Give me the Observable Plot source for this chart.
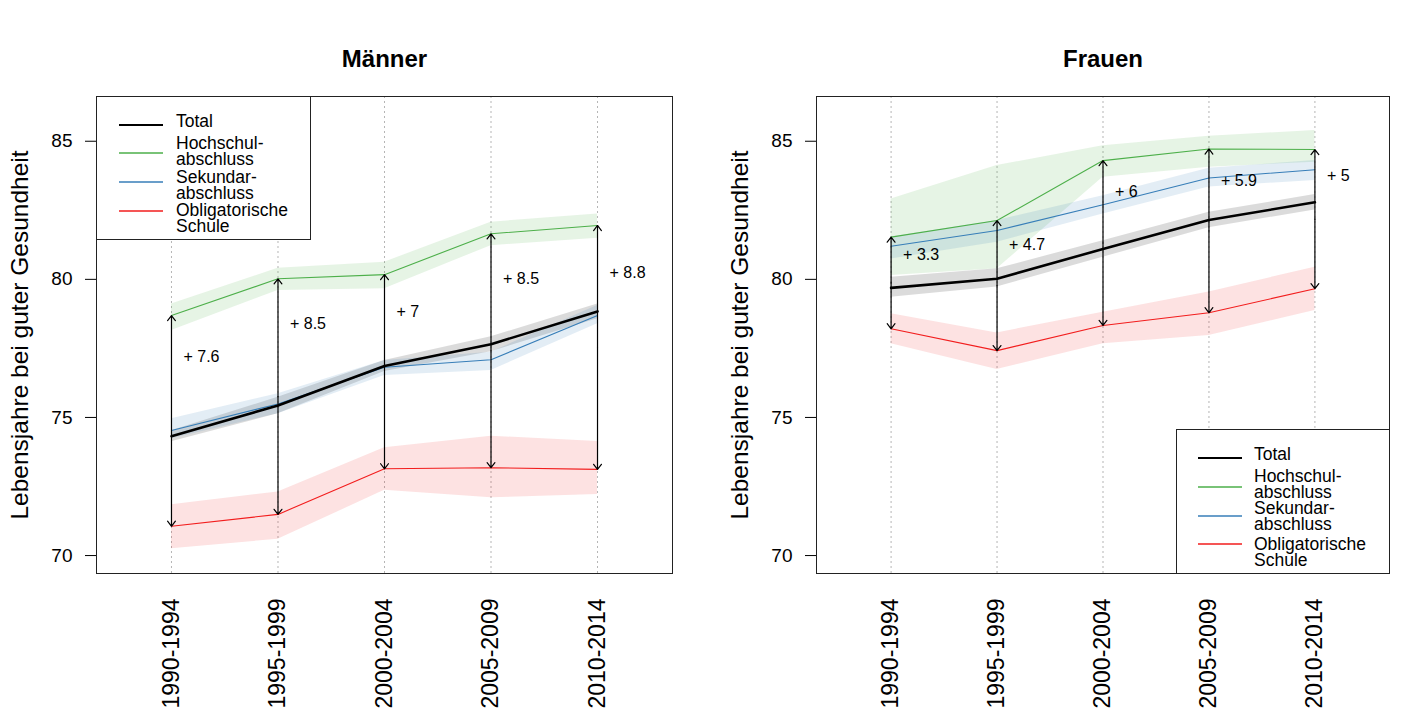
<!DOCTYPE html>
<html>
<head>
<meta charset="utf-8">
<script src="https://cdn.jsdelivr.net/npm/d3@7"></script>
<script src="https://cdn.jsdelivr.net/npm/@observablehq/plot@0.6"></script>
<style>
  html, body { margin: 0; padding: 0; background: #fff; }
  #wrap { position: relative; width: 1420px; height: 713px; font-family: "Liberation Sans", Arial, sans-serif; }
  .panel { position: absolute; top: 0; }
  .legend { position: absolute; background: #fff; border: 1px solid #222; box-sizing: border-box; }
  .legend svg { position: absolute; left: 0; top: 0; }
  .legend .tx { position: absolute; font-size: 17.5px; line-height: 16px; color: #000; white-space: nowrap; transform: translateY(-50%); }
</style>
</head>
<body>
<div id="wrap"></div>
<script>
// ---------- data ----------
const periods = ["1990-1994", "1995-1999", "2000-2004", "2005-2009", "2010-2014"];
const panelTitles = ["Männer", "Frauen"];
const yLabel = "Lebensjahre bei guter Gesundheit";
const yTicks = [70, 75, 80, 85];

const seriesNames = ["Total", "Hochschul-\nabschluss", "Sekundar-\nabschluss", "Obligatorische\nSchule"];
const seriesColors = ["#000000", "#4daf4a", "#377eb8", "#f21d1d"];

// Männer
const menTotal   = [74.32, 75.43, 76.86, 77.65, 78.84];
const menTotalLo = [74.12, 75.13, 76.66, 77.38, 78.57];
const menTotalHi = [74.52, 75.73, 77.06, 77.92, 79.11];
const menHoch    = [78.69, 80.02, 80.17, 81.65, 81.95];
const menHochLo  = [78.15, 79.60, 79.66, 81.22, 81.49];
const menHochHi  = [79.11, 80.40, 80.62, 82.07, 82.37];
const menSek     = [74.53, 75.49, 76.82, 77.09, 78.69];
const menSekLo   = [74.23, 75.13, 76.52, 76.70, 78.39];
const menSekHi   = [74.95, 75.86, 77.06, 77.36, 79.05];
const menObl     = [71.06, 71.49, 73.14, 73.18, 73.12];
const menOblLo   = [70.25, 70.59, 72.36, 72.09, 72.21];
const menOblHi   = [71.84, 72.30, 73.90, 74.32, 74.13];
const menGapLabels = ["+ 7.6", "+ 8.5", "+ 7", "+ 8.5", "+ 8.8"];
const menGapLabelY = [77.18, 78.37, 78.84, 80.02, 80.24];

// Frauen
const womenTotal   = [79.69, 80.02, 81.10, 82.15, 82.79];
const womenTotalLo = [79.35, 79.72, 80.80, 81.87, 82.51];
const womenTotalHi = [80.08, 80.38, 81.40, 82.43, 83.07];
const womenHoch    = [81.53, 82.13, 84.30, 84.72, 84.70];
const womenHochLo  = [80.14, 80.38, 83.70, 84.06, 84.24];
const womenHochHi  = [82.91, 84.12, 84.84, 85.18, 85.39];
const womenSek     = [81.20, 81.77, 82.70, 83.67, 83.97];
const womenSekLo   = [80.74, 81.34, 82.37, 83.34, 83.58];
const womenSekHi   = [81.53, 82.13, 83.03, 84.02, 84.30];
const womenObl     = [78.21, 77.42, 78.33, 78.79, 79.66];
const womenOblLo   = [77.67, 76.74, 77.67, 77.97, 78.87];
const womenOblHi   = [78.75, 78.06, 78.81, 79.54, 80.44];
const womenGapLabels = ["+ 3.3", "+ 4.7", "+ 6", "+ 5.9", "+ 5"];
const womenGapLabelY = [80.89, 81.25, 83.15, 83.55, 83.73];

// ---------- build ----------
const idx = periods.map((_, i) => i + 1);
function seriesRows(vals, lo, hi) {
  return vals.map((v, i) => ({i: i + 1, v, lo: lo[i], hi: hi[i]}));
}
const panels = [
  {
    title: panelTitles[0],
    series: [
      seriesRows(menTotal, menTotalLo, menTotalHi),
      seriesRows(menHoch, menHochLo, menHochHi),
      seriesRows(menSek, menSekLo, menSekHi),
      seriesRows(menObl, menOblLo, menOblHi)
    ],
    top: menHoch, bottom: menObl, labels: menGapLabels, labelY: menGapLabelY,
    left: 0, marginLeft: 96, marginRight: 38
  },
  {
    title: panelTitles[1],
    series: [
      seriesRows(womenTotal, womenTotalLo, womenTotalHi),
      seriesRows(womenHoch, womenHochLo, womenHochHi),
      seriesRows(womenSek, womenSekLo, womenSekHi),
      seriesRows(womenObl, womenOblLo, womenOblHi)
    ],
    top: womenHoch, bottom: womenObl, labels: womenGapLabels, labelY: womenGapLabelY,
    left: 710, marginLeft: 106, marginRight: 31
  }
];

const bandOpacity = [0.14, 0.14, 0.14, 0.13];
const lineWidths = [2.6, 1.1, 1.1, 1.1];
const wrap = document.getElementById("wrap");

panels.forEach(p => {
  const gaps = idx.map((i, k) => ({i, y1: p.top[k], y2: p.bottom[k], mid: (p.top[k] + p.bottom[k]) / 2, label: p.labels[k], ly: p.labelY[k]}));
  const marks = [
    Plot.ruleX(idx, {stroke: "#b5b5b5", strokeDasharray: "2,3", strokeWidth: 1}),
    ...p.series.map((rows, s) => Plot.areaY(rows, {x: "i", y1: "lo", y2: "hi", fill: seriesColors[s], fillOpacity: bandOpacity[s], curve: "linear"})),
    ...[1, 2, 3, 0].map(s => Plot.line(p.series[s], {x: "i", y: "v", stroke: seriesColors[s], strokeWidth: lineWidths[s]})),
    Plot.arrow(gaps, {x1: "i", x2: "i", y1: "mid", y2: "y1", stroke: "#000", strokeWidth: 1.2, headLength: 8, headAngle: 75}),
    Plot.arrow(gaps, {x1: "i", x2: "i", y1: "mid", y2: "y2", stroke: "#000", strokeWidth: 1.2, headLength: 8, headAngle: 75}),
    Plot.text(gaps, {x: "i", y: "ly", text: "label", textAnchor: "start", dx: 12, fontSize: 16, fill: "#000"}),
    Plot.axisY({ticks: yTicks, tickSize: 11, tickPadding: 13, fontSize: 19, label: null}),
    Plot.text([yLabel], {frameAnchor: "left", textAnchor: "middle", rotate: -90, dx: -76, fontSize: 24.5, fill: "#000"}),
    Plot.axisX({ticks: idx, tickFormat: i => periods[i - 1], tickRotate: -90, tickSize: 0, tickPadding: 25, fontSize: 23, label: null}),
    Plot.frame({stroke: "#222", strokeWidth: 1}),
    Plot.text([p.title], {frameAnchor: "top", dy: -47, fontSize: 24, fontWeight: "bold", fill: "#000"})
  ];
  const chart = Plot.plot({
    width: 710,
    height: 713,
    marginTop: 96,
    marginBottom: 140,
    marginLeft: p.marginLeft,
    marginRight: p.marginRight,
    x: {type: "linear", domain: [0.296, 5.704]},
    y: {domain: [69.35, 86.62]},
    style: {fontFamily: "'Liberation Sans', Arial, sans-serif", color: "#000", background: "transparent", overflow: "visible"},
    marks
  });
  chart.classList.add("panel");
  chart.style.left = p.left + "px";
  wrap.appendChild(chart);
});

// ---------- legends (HTML overlays) ----------
const legendBoxes = [
  {left: 96, top: 96, width: 215, height: 144, lineX: 22, lineW: 44, textX: 79, rowY: [29, 57, 86, 115], textY: [24, 53.5, 87.5, 121]},
  {left: 1176, top: 429, width: 214, height: 145, lineX: 21, lineW: 44, textX: 77, rowY: [29, 58, 87, 115], textY: [24, 53.5, 86, 122]}
];
const svgNS = "http://www.w3.org/2000/svg";
legendBoxes.forEach(b => {
  const box = document.createElement("div");
  box.className = "legend";
  Object.assign(box.style, {left: b.left + "px", top: b.top + "px", width: b.width + "px", height: b.height + "px"});
  const svg = document.createElementNS(svgNS, "svg");
  svg.setAttribute("width", b.width);
  svg.setAttribute("height", b.height);
  seriesNames.forEach((name, s) => {
    const ln = document.createElementNS(svgNS, "line");
    ln.setAttribute("x1", b.lineX);
    ln.setAttribute("x2", b.lineX + b.lineW);
    ln.setAttribute("y1", b.rowY[s] - 1);
    ln.setAttribute("y2", b.rowY[s] - 1);
    ln.setAttribute("stroke", seriesColors[s]);
    ln.setAttribute("stroke-width", s === 0 ? 2 : 1.5);
    svg.appendChild(ln);
    const tx = document.createElement("div");
    tx.className = "tx";
    tx.style.left = b.textX + "px";
    tx.style.top = b.textY[s] + "px";
    tx.innerHTML = name.split("\n").join("<br>");
    box.appendChild(tx);
  });
  box.insertBefore(svg, box.firstChild);
  wrap.appendChild(box);
});
</script>
</body>
</html>
